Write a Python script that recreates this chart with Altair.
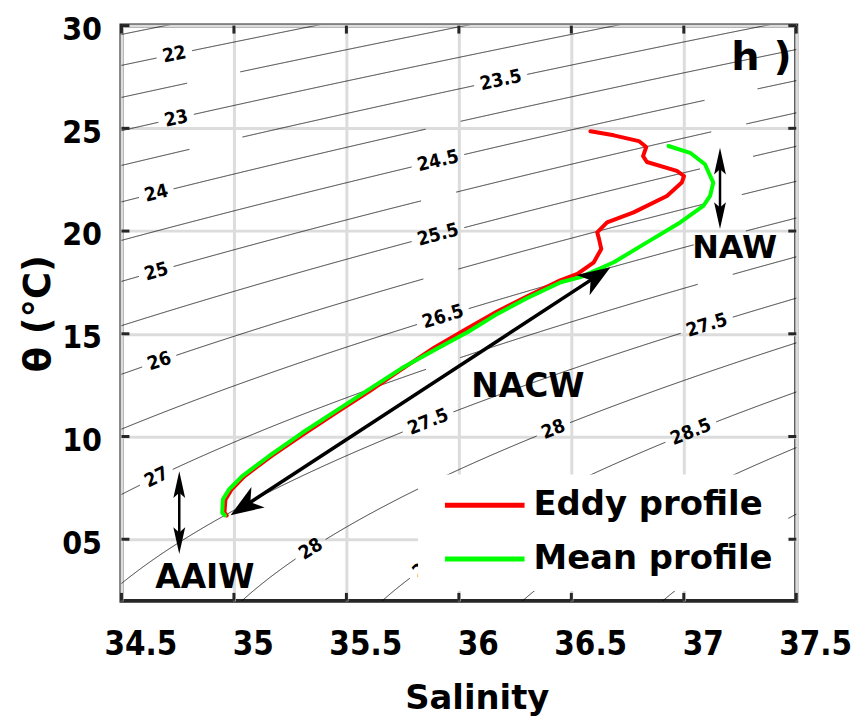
import math
import numpy as np
import pandas as pd
import altair as alt

# ---------------- geometry of the plot area ----------------
W, H = 678, 578
S_MIN, S_MAX = 34.5, 37.5
T_MIN, T_MAX = 2.0, 30.0
KX = W / (S_MAX - S_MIN)
KY = H / (T_MAX - T_MIN)

# ---------------- data ----------------
x_ticks = [34.5, 35, 35.5, 36, 36.5, 37, 37.5]
y_ticks = [5, 10, 15, 20, 25, 30]

eddy_S = [36.585, 36.689, 36.80, 36.833, 36.819, 36.836, 36.969, 37.001, 36.991, 36.925,
          36.777, 36.659, 36.615, 36.623, 36.633, 36.600, 36.527, 36.451, 36.30, 36.17,
          36.035, 35.89, 35.75, 35.605, 35.455, 35.31, 35.163, 35.045, 34.988, 34.962,
          34.958, 34.968]
eddy_T = [24.86, 24.66, 24.38, 24.09, 23.65, 23.36, 22.93, 22.68, 22.36, 21.71,
          20.91, 20.42, 19.94, 19.62, 19.13, 18.48, 17.92, 17.60, 16.80, 16.08,
          15.25, 14.32, 13.30, 12.22, 11.17, 10.12, 9.02, 8.05, 7.40, 6.92,
          6.30, 6.16]

mean_S = [36.932, 37.028, 37.094, 37.131, 37.117, 37.087, 36.984, 36.836, 36.689, 36.541,
          36.453, 36.30, 36.173, 36.04, 35.892, 35.745, 35.597, 35.45, 35.302, 35.155,
          35.037, 34.978, 34.951, 34.948, 34.96]
mean_T = [24.14, 23.81, 23.25, 22.36, 21.71, 21.23, 20.42, 19.45, 18.48, 17.76,
          17.51, 16.72, 15.98, 15.09, 14.21, 13.32, 12.27, 11.22, 10.17, 9.04,
          8.07, 7.42, 6.94, 6.29, 6.16]

sigma_levels = [21.5, 22.0, 22.5, 23.0, 23.5, 24.0, 24.5, 25.0, 25.5, 26.0, 26.5,
                27.0, 27.5, 28.0, 28.5, 29.0, 29.5, 30.0]

# visible contour labels
label_text = ["22", "23", "24", "25", "26", "27", "23.5", "24.5", "25.5", "26.5",
              "27.5", "28", "27.5", "28", "28.5", "28.5"]
label_level = [22, 23, 24, 25, 26, 27, 23.5, 24.5, 25.5, 26.5, 27.5, 28, 27.5, 28, 28.5, 28.5]
label_S = [34.735, 34.743, 34.655, 34.655, 34.668, 34.655, 36.186, 35.907, 35.907, 35.929,
           35.863, 35.341, 37.102, 36.420, 37.031, 35.88]

# contour gaps whose labels are not shown
hidden_level = [22.5, 23.5, 24, 25, 26, 27, 24.5, 25, 25.5, 26, 26.5, 27]
hidden_S = [34.91, 34.92, 35.93, 35.91, 35.92, 35.93, 37.21, 37.2, 37.19, 37.18, 37.16, 37.14]

arrow_name = ["NACW", "NAW", "AAIW"]
arrow_S1 = [34.985, 37.161, 34.757]
arrow_T1 = [6.17, 24.06, 8.31]
arrow_S2 = [36.674, 37.161, 34.757]
arrow_T2 = [18.24, 20.10, 4.28]

note_text = ["NAW", "NACW", "AAIW", "h )"]
note_S = [37.226, 36.307, 34.871, 37.345]
note_T = [19.15, 12.39, 3.10, 28.43]

profile_names = ["Eddy profile", "Mean profile"]
profile_colors = ["#ff0000", "#00ff00"]


# ---------------- UNESCO 1981 equation of state (p = 0) ----------------
def sigma0(S, T):
    rw = (999.842594 + 6.793952e-2 * T - 9.095290e-3 * T ** 2 + 1.001685e-4 * T ** 3
          - 1.120083e-6 * T ** 4 + 6.536332e-9 * T ** 5)
    A = 8.24493e-1 - 4.0899e-3 * T + 7.6438e-5 * T ** 2 - 8.2467e-7 * T ** 3 + 5.3875e-9 * T ** 4
    B = -5.72466e-3 + 1.0227e-4 * T - 1.6546e-6 * T ** 2
    return rw + A * S + B * S ** 1.5 + 4.8314e-4 * S ** 2 - 1000.0


def temp_on(level, S):
    S = np.asarray(S, dtype=float)
    lo = np.full_like(S, -2.0)
    hi = np.full_like(S, 40.0)
    for _ in range(60):
        mid = 0.5 * (lo + hi)
        m = sigma0(S, mid) > level
        lo = np.where(m, mid, lo)
        hi = np.where(m, hi, mid)
    return 0.5 * (lo + hi)


LABEL_FS = 19


def text_w(t):
    return sum(0.342 if c == "." else 0.626 for c in t) * LABEL_FS


def fmt(v):
    return f"{v:g}"


gaps = [(ll, ls, t) for t, ll, ls in zip(label_text, label_level, label_S)]
gaps += [(ll, ls, fmt(ll)) for ll, ls in zip(hidden_level, hidden_S)]

# contour polylines with gaps where labels sit
S_grid = np.linspace(34.45, 37.55, 1551)
crow = []
for lev in sigma_levels:
    T = temp_on(lev, S_grid)
    keep = (T >= 1.0) & (T <= 31.0)
    px = (S_grid - S_MIN) * KX
    py = (T_MAX - T) * KY
    for ll, ls, t in gaps:
        if abs(ll - lev) > 1e-9:
            continue
        t0 = temp_on(lev, [ls])[0]
        cx, cy = (ls - S_MIN) * KX, (T_MAX - t0) * KY
        keep &= np.hypot(px - cx, py - cy) > text_w(t) / 2 + 6
    seg = 0
    prev = False
    for s, tt, k in zip(S_grid, T, keep):
        if k and not prev:
            seg += 1
        if k:
            crow.append({"key": f"{lev}-{seg}", "S": s, "T": tt})
        prev = k
contour_df = pd.DataFrame(crow)

lrow = []
for t, ll, ls in zip(label_text, label_level, label_S):
    t0 = temp_on(ll, [ls])[0]
    d = 0.005
    ta = temp_on(ll, [ls - d, ls + d])
    ang = math.degrees(math.atan2(-(ta[1] - ta[0]) * KY, 2 * d * KX)) % 360
    lrow.append({"S": ls, "T": t0, "txt": t, "angle": ang})
label_df = pd.DataFrame(lrow)

prow = []
for name, ss, ts in [(profile_names[0], eddy_S, eddy_T), (profile_names[1], mean_S, mean_T)]:
    for i, (s, t) in enumerate(zip(ss, ts)):
        prow.append({"profile": name, "i": i, "S": s, "T": t})
prof_df = pd.DataFrame(prow)

# arrows: shafts shortened a little, heads at the tips
shaft_rows, head_wide, head_narrow = [], [], []
for name, s1, t1, s2, t2 in zip(arrow_name, arrow_S1, arrow_T1, arrow_S2, arrow_T2):
    dx = (s2 - s1) * KX
    dy = -(t2 - t1) * KY
    L = math.hypot(dx, dy)
    ux, uy = dx / L, dy / L
    cut = 10
    shaft_rows.append({
        "S1": s1 + ux * cut / KX, "T1": t1 - uy * cut / KY,
        "S2": s2 - ux * cut / KX, "T2": t2 + uy * cut / KY,
        "w": 3.5 if name == "NACW" else 2.5,
    })
    a2 = math.degrees(math.atan2(dy, dx)) % 360
    a1 = (a2 + 180) % 360
    target = head_wide if name == "NACW" else head_narrow
    target.append({"S": s2, "T": t2, "angle": a2})
    target.append({"S": s1, "T": t1, "angle": a1})
shaft_df = pd.DataFrame(shaft_rows)
head_wide_df = pd.DataFrame(head_wide)
head_narrow_df = pd.DataFrame(head_narrow)

note_fs = {"NAW": 32, "NACW": 33, "AAIW": 33, "h )": 40}
note_df = pd.DataFrame({"S": note_S, "T": note_T, "txt": note_text})
note_df["fs"] = note_df["txt"].map(note_fs)

xt_df = pd.DataFrame({"v": x_ticks})
yt_df = pd.DataFrame({"v": y_ticks})

# ---------------- scales / axes ----------------
xs = alt.Scale(domain=[S_MIN, S_MAX], nice=False, zero=False)
ys = alt.Scale(domain=[T_MIN, T_MAX], nice=False, zero=False)
COND = "DejaVu Sans Condensed, DejaVu Sans"
GRID = "#dcdcdc"

x_axis = alt.Axis(values=x_ticks, title="Salinity", grid=True, gridColor=GRID, gridWidth=3,
                  domain=False, ticks=False, tickSize=0, format="~g",
                  labelFont=COND, labelFontWeight="bold", labelFontSize=33, labelColor="black",
                  labelPadding=28, labelOffset=19, labelFlush=False, labelOverlap=False,
                  titleFont="DejaVu Sans", titleFontWeight="bold", titleFontSize=34,
                  titleColor="black", titleX=357, titleY=108, titleBaseline="alphabetic",
                  titleAlign="center")
y_axis = alt.Axis(values=y_ticks, title="θ (°C)", grid=True, gridColor=GRID, gridWidth=3,
                  domain=False, ticks=False, tickSize=0,
                  labelFont=COND, labelFontWeight="bold", labelFontSize=32, labelColor="black",
                  labelPadding=20, labelOffset=4, labelFlush=False, labelOverlap=False,
                  labelExpr="datum.value < 10 ? '0' + datum.value : '' + datum.value",
                  titleFont="DejaVu Sans", titleFontWeight="bold", titleFontSize=37,
                  titleColor="black", titleAngle=270, titleX=-72, titleY=289,
                  titleAlign="center", titleBaseline="alphabetic")


def X(f):
    return alt.X(f, type="quantitative", scale=xs, axis=x_axis)


def Y(f):
    return alt.Y(f, type="quantitative", scale=ys, axis=y_axis)


contours = alt.Chart(contour_df).mark_line(color="black", strokeWidth=0.8, clip=True).encode(
    x=X("S"), y=Y("T"), detail="key:N", order=alt.Order("S:Q"))

labels = alt.Chart(label_df).mark_text(font=COND, fontSize=LABEL_FS, fontWeight="bold",
                                       color="black", align="center", baseline="middle").encode(
    x=X("S"), y=Y("T"), text="txt:N", angle=alt.Angle("angle:Q", scale=None))

profiles = alt.Chart(prof_df).mark_line(strokeWidth=4, strokeCap="round", strokeJoin="round",
                                        clip=True).encode(
    x=X("S"), y=Y("T"), order=alt.Order("i:Q"),
    color=alt.Color("profile:N", scale=alt.Scale(domain=profile_names, range=profile_colors),
                    legend=alt.Legend(title=None, orient="none", legendX=298, legendY=451,
                                      symbolType="M-4,0H4", symbolSize=400, symbolOffset=36,
                                      symbolStrokeWidth=5, labelFont="DejaVu Sans",
                                      labelFontWeight="bold", labelFontSize=34,
                                      labelColor="black", labelOffset=32, labelLimit=500,
                                      rowPadding=20, padding=14, fillColor="white",
                                      strokeColor="white")))

shafts = alt.Chart(shaft_df).mark_rule(color="black").encode(
    x=X("S1"), y=Y("T1"), x2="S2", y2="T2", strokeWidth=alt.StrokeWidth("w:Q", scale=None))

heads_w = alt.Chart(head_wide_df).mark_point(
    shape="M0,0L-1,-0.37L-0.72,0L-1,0.37Z", filled=True, color="black", opacity=1,
    size=4356, strokeWidth=0).encode(x=X("S"), y=Y("T"), angle=alt.Angle("angle:Q", scale=None))

heads_n = alt.Chart(head_narrow_df).mark_point(
    shape="M0,0L-1,-0.22L-0.8,0L-1,0.22Z", filled=True, color="black", opacity=1,
    size=2916, strokeWidth=0).encode(x=X("S"), y=Y("T"), angle=alt.Angle("angle:Q", scale=None))

notes = alt.Chart(note_df).mark_text(font="DejaVu Sans", fontWeight="bold", color="black",
                                     align="center", baseline="middle").encode(
    x=X("S"), y=Y("T"), text="txt:N", size=alt.Size("fs:Q", scale=None))

TK = "#262626"
tb = alt.Chart(xt_df).mark_rule(color=TK, strokeWidth=3).encode(
    x=X("v"), y=alt.value(H - 8), y2=alt.value(H))
tt = alt.Chart(xt_df).mark_rule(color=TK, strokeWidth=3).encode(
    x=X("v"), y=alt.value(0), y2=alt.value(8))
tl = alt.Chart(yt_df).mark_rule(color=TK, strokeWidth=3).encode(
    y=Y("v"), x=alt.value(0), x2=alt.value(8))
tr = alt.Chart(yt_df).mark_rule(color=TK, strokeWidth=3).encode(
    y=Y("v"), x=alt.value(W - 8), x2=alt.value(W))

chart = alt.layer(contours, labels, profiles, shafts, heads_w, heads_n, notes, tb, tt, tl, tr).properties(
    width=W, height=H,
    padding={"left": 114, "top": 16, "right": 55, "bottom": 118},
    autosize=alt.AutoSizeParams(type="none"),
    background="white",
).configure_view(stroke=TK, strokeWidth=4)

chart.save("out.html", embed_options={"renderer": "svg", "actions": False})
